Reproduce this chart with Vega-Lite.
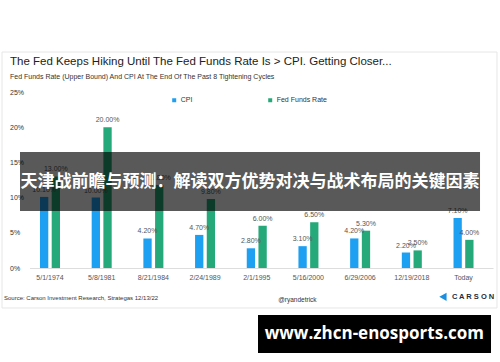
{
  "$schema": "https://vega.github.io/schema/vega-lite/v6.json",
  "autosize": {"type": "none"},
  "width": 463.5,
  "height": 176,
  "padding": {"left": 29.5, "top": 92, "right": 7, "bottom": 94},
  "background": "white",
  "config": {
    "font": "Liberation Sans",
    "view": {"stroke": null},
    "title": {"fontSize": 11.5, "fontWeight": "normal", "color": "#222", "anchor": "start", "frame": "group", "dx": -19.5, "offset": -28, "subtitleFontSize": 7, "subtitleColor": "#333", "subtitlePadding": 5}
  },
  "title": {"text": "The Fed Keeps Hiking Until The Fed Funds Rate Is > CPI. Getting Closer...", "subtitle": "Fed Funds Rate (Upper Bound) And CPI At The End Of The Past 8 Tightening Cycles"},
  "datasets": {
    "rates": [
      {"date": "5/1/1974", "series": "CPI", "rate": 0.101},
      {"date": "5/1/1974", "series": "Fed Funds Rate", "rate": 0.13},
      {"date": "5/8/1981", "series": "CPI", "rate": 0.10},
      {"date": "5/8/1981", "series": "Fed Funds Rate", "rate": 0.20},
      {"date": "8/21/1984", "series": "CPI", "rate": 0.042},
      {"date": "8/21/1984", "series": "Fed Funds Rate", "rate": 0.118},
      {"date": "2/24/1989", "series": "CPI", "rate": 0.047},
      {"date": "2/24/1989", "series": "Fed Funds Rate", "rate": 0.098},
      {"date": "2/1/1995", "series": "CPI", "rate": 0.028},
      {"date": "2/1/1995", "series": "Fed Funds Rate", "rate": 0.06},
      {"date": "5/16/2000", "series": "CPI", "rate": 0.031},
      {"date": "5/16/2000", "series": "Fed Funds Rate", "rate": 0.065},
      {"date": "6/29/2006", "series": "CPI", "rate": 0.042},
      {"date": "6/29/2006", "series": "Fed Funds Rate", "rate": 0.053},
      {"date": "12/19/2018", "series": "CPI", "rate": 0.022},
      {"date": "12/19/2018", "series": "Fed Funds Rate", "rate": 0.025},
      {"date": "Today", "series": "CPI", "rate": 0.071},
      {"date": "Today", "series": "Fed Funds Rate", "rate": 0.04}
    ]
  },
  "resolve": {"scale": {"x": "independent", "y": "independent"}, "axis": {"x": "independent", "y": "independent"}},
  "layer": [
    {
      "data": {"name": "rates"},
      "encoding": {
        "x": {"field": "date", "type": "nominal", "sort": null, "title": null,
          "scale": {"paddingInner": 0.613, "paddingOuter": 0.29, "align": 0.35},
          "axis": {"labelAngle": 0, "labelFontSize": 7, "labelColor": "#555", "labelPadding": 5, "labelDx": 5, "ticks": false, "domainColor": "#ddd", "grid": false}},
        "xOffset": {"field": "series", "type": "nominal", "sort": ["CPI", "Fed Funds Rate"], "scale": {"paddingInner": 0.29, "paddingOuter": 0}},
        "y": {"field": "rate", "type": "quantitative", "title": null,
          "scale": {"domain": [0, 0.25], "nice": false},
          "axis": {"values": [0, 0.05, 0.1, 0.15, 0.2, 0.25], "format": ".0%", "labelAlign": "left", "labelPadding": 20, "labelFontSize": 7, "labelColor": "#333", "ticks": false, "tickSize": 0, "domain": false, "grid": false}}
      },
      "layer": [
        {
          "mark": {"type": "bar"},
          "encoding": {
            "color": {"field": "series", "type": "nominal", "sort": ["CPI", "Fed Funds Rate"],
              "scale": {"domain": ["CPI", "Fed Funds Rate"], "range": ["#1da0f2", "#26a97a"]},
              "legend": {"title": null, "orient": "none", "legendX": 141.2, "legendY": 4.5, "direction": "horizontal", "symbolType": "square", "symbolSize": 16, "labelFontSize": 7, "labelColor": "#333", "labelOffset": 3, "columnPadding": 74, "padding": 0}}
          }
        },
        {
          "mark": {"type": "text", "baseline": "bottom", "dy": -4, "fontSize": 7, "color": "#555"},
          "encoding": {"text": {"field": "rate", "type": "quantitative", "format": ".2%"}}
        }
      ]
    },
    {
      "data": {"values": [{"item": "frame"}]},
      "mark": {"type": "rect", "fill": null, "stroke": "#e6e6e6", "strokeWidth": 1},
      "encoding": {
        "x": {"datum": -5.93, "type": "quantitative", "scale": {"domain": [0, 100], "nice": false}, "axis": null},
        "x2": {"datum": 100.86},
        "y": {"datum": 30.68, "type": "quantitative", "scale": {"domain": [0, 25], "nice": false}, "axis": null},
        "y2": {"datum": -5.68}
      }
    },
    {
      "data": {"values": [{"label": "Source: Carson Investment Research, Strategas 12/13/22"}]},
      "mark": {"type": "text", "align": "left", "baseline": "middle", "fontSize": 6, "color": "#333"},
      "encoding": {
        "x": {"datum": -5.5, "type": "quantitative", "scale": {"domain": [0, 100], "nice": false}, "axis": null},
        "y": {"datum": -4.26, "type": "quantitative", "scale": {"domain": [0, 25], "nice": false}, "axis": null},
        "text": {"field": "label"}
      }
    },
    {
      "data": {"values": [{"label": "@ryandetrick"}]},
      "mark": {"type": "text", "align": "center", "baseline": "middle", "fontSize": 6.5, "color": "#333"},
      "encoding": {
        "x": {"datum": 57.8, "type": "quantitative", "scale": {"domain": [0, 100], "nice": false}, "axis": null},
        "y": {"datum": -4.55, "type": "quantitative", "scale": {"domain": [0, 25], "nice": false}, "axis": null},
        "text": {"field": "label"}
      }
    },
    {
      "data": {"values": [{"label": "C A R S O N"}]},
      "mark": {"type": "text", "align": "center", "baseline": "middle", "fontSize": 7.5, "fontWeight": "bold", "color": "#1d2b3c"},
      "encoding": {
        "x": {"datum": 95.7, "type": "quantitative", "scale": {"domain": [0, 100], "nice": false}, "axis": null},
        "y": {"datum": -4.1, "type": "quantitative", "scale": {"domain": [0, 25], "nice": false}, "axis": null},
        "text": {"field": "label"}
      }
    },
    {
      "data": {"values": [{"label": "logo"}]},
      "mark": {"type": "point", "shape": "triangle-left", "filled": true, "size": 70, "color": "#1a8fe0", "opacity": 1},
      "encoding": {
        "x": {"datum": 89.2, "type": "quantitative", "scale": {"domain": [0, 100], "nice": false}, "axis": null},
        "y": {"datum": -4.1, "type": "quantitative", "scale": {"domain": [0, 25], "nice": false}, "axis": null}
      }
    },
    {
      "data": {"values": [{"item": "banner"}]},
      "mark": {"type": "rect", "color": "black", "opacity": 0.65},
      "encoding": {
        "x": {"datum": -2.05, "type": "quantitative", "scale": {"domain": [0, 100], "nice": false}, "axis": null},
        "x2": {"datum": 97.2},
        "y": {"datum": 16.48, "type": "quantitative", "scale": {"domain": [0, 25], "nice": false}, "axis": null},
        "y2": {"datum": 8.1}
      }
    },
    {
      "data": {"values": [{"label": "天津战前瞻与预测：解读双方优势对决与战术布局的关键因素"}]},
      "mark": {"type": "text", "align": "center", "baseline": "middle", "font": "Noto Sans CJK SC", "fontSize": 17, "fontWeight": "bold", "color": "white"},
      "encoding": {
        "x": {"datum": 47.57, "type": "quantitative", "scale": {"domain": [0, 100], "nice": false}, "axis": null},
        "y": {"datum": 12.2, "type": "quantitative", "scale": {"domain": [0, 25], "nice": false}, "axis": null},
        "text": {"field": "label"}
      }
    },
    {
      "data": {"values": [{"item": "watermark"}]},
      "mark": {"type": "rect", "color": "black"},
      "encoding": {
        "x": {"datum": 49.3, "type": "quantitative", "scale": {"domain": [0, 100], "nice": false}, "axis": null},
        "x2": {"datum": 99.57},
        "y": {"datum": -6.68, "type": "quantitative", "scale": {"domain": [0, 25], "nice": false}, "axis": null},
        "y2": {"datum": -12.07}
      }
    },
    {
      "data": {"values": [{"label": "www.zhcn-enosports.com"}]},
      "mark": {"type": "text", "align": "center", "baseline": "middle", "font": "Open Sans", "fontSize": 17, "fontWeight": "bold", "color": "white"},
      "encoding": {
        "x": {"datum": 74.4, "type": "quantitative", "scale": {"domain": [0, 100], "nice": false}, "axis": null},
        "y": {"datum": -9.375, "type": "quantitative", "scale": {"domain": [0, 25], "nice": false}, "axis": null},
        "text": {"field": "label"}
      }
    }
  ]
}
